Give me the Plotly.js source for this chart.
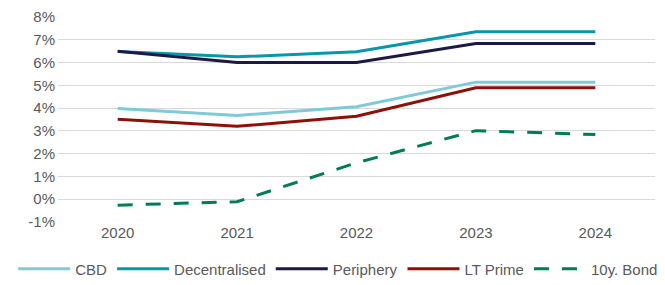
<!DOCTYPE html>
<html><head><meta charset="utf-8">
<script src="https://cdn.plot.ly/plotly-3.0.1.min.js"></script>
<style>html,body{margin:0;padding:0;background:#fff;}#chart{width:665px;height:285px;}</style>
</head><body><div id="chart"></div>
<script>
const years = ["2020","2021","2022","2023","2024"];
const cbd = [3.98, 3.68, 4.06, 5.14, 5.14];
const decentralised = [6.49, 6.25, 6.47, 7.35, 7.35];
const periphery = [6.5, 6.0, 6.0, 6.84, 6.84];
const ltPrime = [3.51, 3.2, 3.64, 4.89, 4.89];
const bond10y = [-0.26, -0.11, 1.6, 3.01, 2.84];
const yTicks = [-1,0,1,2,3,4,5,6,7,8];
const yTickText = yTicks.map(v => v + "%");

const mk = (name, y, color, dash) => ({
  type: "scatter", mode: "lines", name: name, x: years, y: y,
  line: {color: color, width: 3, dash: dash || "solid"}
});
const data = [
  mk("CBD", cbd, "#7FCAD8"),
  mk("Decentralised", decentralised, "#0797AB"),
  mk("Periphery", periphery, "#1C1A44"),
  mk("LT Prime", ltPrime, "#8C1209"),
  mk("10y. Bond", bond10y, "#007B56", "15px,13px")
];
const layout = {
  width: 665, height: 285,
  margin: {l: 58, r: 10, t: 17, b: 63, autoexpand: false},
  paper_bgcolor: "#fff", plot_bgcolor: "#fff",
  font: {family: "Liberation Sans, Arial, sans-serif", color: "#595959", size: 14},
  showlegend: true,
  legend: {orientation: "h", x: -0.075, xanchor: "left", y: -0.229, yanchor: "middle",
           font: {size: 15, color: "#595959"}, itemwidth: 52, tracegroupgap: 0},
  xaxis: {type: "category", range: [-0.5, 4.5], showgrid: false, zeroline: false,
          showline: false, ticks: "", tickfont: {size: 15, color: "#595959"}},
  yaxis: {range: [-1, 8], tickvals: yTicks, ticktext: yTickText, showgrid: true,
          gridcolor: "#D9D9D9", gridwidth: 1, zeroline: false, showline: false,
          ticks: "", ticklabelstandoff: 2, tickfont: {size: 15, color: "#595959"}}
};
Plotly.newPlot("chart", data, layout, {displayModeBar: false, staticPlot: true});
</script></body></html>
